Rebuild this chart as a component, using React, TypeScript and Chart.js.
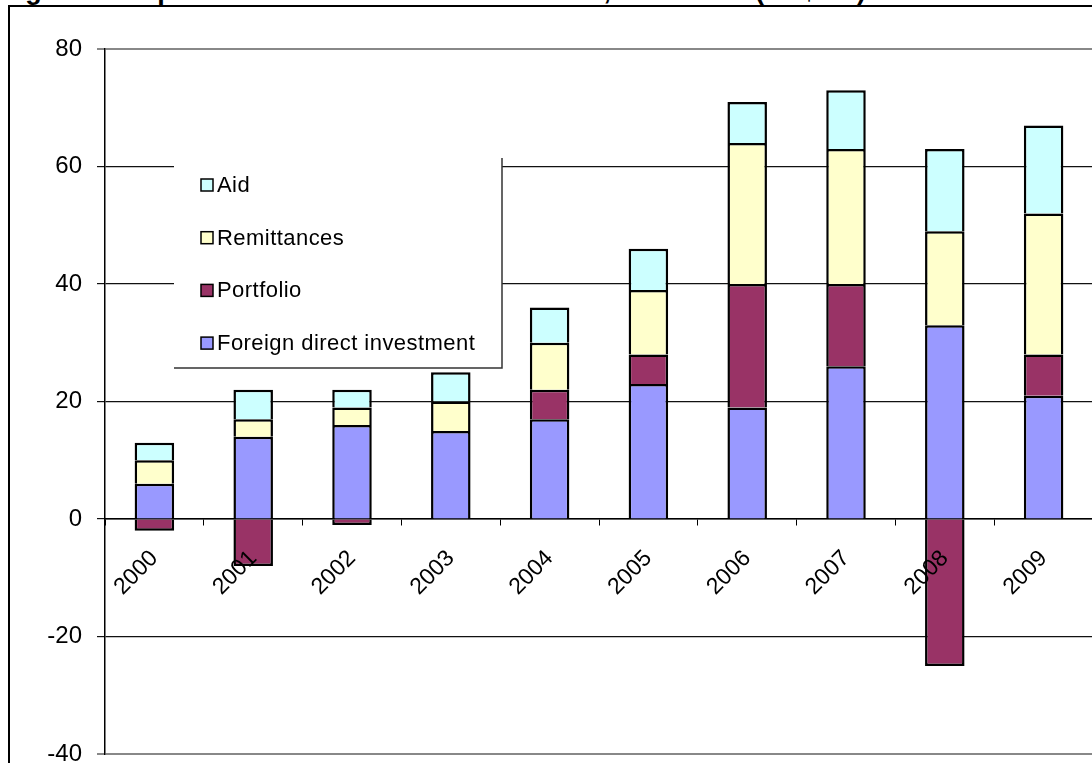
import React, { useEffect, useRef } from "react";
import { Chart, registerables } from "chart.js";

Chart.register(...registerables);

// Capital inflows by year, US$ bn
const years = ["2000", "2001", "2002", "2003", "2004", "2005", "2006", "2007", "2008", "2009"];
const fdi = [6, 14, 16, 15, 17, 23, 19, 26, 33, 21];
const portfolio = [-2, -8, -1, 0, 5, 5, 21, 14, -25, 7];
const remittances = [4, 3, 3, 5, 8, 11, 24, 23, 16, 24];
const aid = [3, 5, 3, 5, 6, 7, 7, 10, 14, 15];

const seriesNames = ["Foreign direct investment", "Portfolio", "Remittances", "Aid"];
const seriesColors = ["#9999FF", "#993366", "#FFFFCC", "#CCFFFF"];
const yTicks = [-40, -20, 0, 20, 40, 60, 80];

const title = "Figure 5: Capital inflows to Sub-Saharan Africa, 2000-2009 (US$ bn)";
const FONT = "'Liberation Sans', Arial, sans-serif";

// Boxed legend drawn inside the plot area, top entry = last stacked series
const boxLegend = {
  id: "boxLegend",
  afterDraw(chart: any) {
    const { ctx, chartArea } = chart;
    const x0 = chartArea.left + 69;
    const y0 = chartArea.top + 109;
    const w = 328;
    const h = 210;
    ctx.save();
    ctx.fillStyle = "#ffffff";
    ctx.fillRect(x0, y0, w, h);
    ctx.strokeStyle = "#333333";
    ctx.lineWidth = 1.5;
    ctx.beginPath();
    ctx.moveTo(x0 + w, y0);
    ctx.lineTo(x0 + w, y0 + h);
    ctx.lineTo(x0, y0 + h);
    ctx.stroke();

    ctx.font = `22px ${FONT}`;
    (ctx as any).letterSpacing = "0.45px";
    ctx.textBaseline = "middle";
    ctx.textAlign = "left";
    const order = [3, 2, 1, 0];
    order.forEach((di, i) => {
      const ds = chart.data.datasets[di];
      const cy = y0 + 27 + i * 52.7;
      ctx.fillStyle = ds.backgroundColor;
      ctx.fillRect(x0 + 27, cy - 6, 12, 12);
      ctx.strokeStyle = "#000000";
      ctx.lineWidth = 1.5;
      ctx.strokeRect(x0 + 27, cy - 6, 12, 12);
      ctx.fillStyle = "#000000";
      ctx.fillText(ds.label, x0 + 43, cy + 1);
    });
    ctx.restore();
  },
};

const zeroPadding = (scale: any) => {
  scale.paddingTop = 0;
  scale.paddingBottom = 0;
};

export default function App() {
  const canvasRef = useRef<HTMLCanvasElement>(null);

  useEffect(() => {
    const canvas = canvasRef.current;
    if (!canvas) return;
    const seriesValues = [fdi, portfolio, remittances, aid];
    const chart = new Chart(canvas, {
      type: "bar",
      data: {
        labels: years,
        datasets: seriesValues.map((vals, i) => ({
          label: seriesNames[i],
          data: vals,
          backgroundColor: seriesColors[i],
          borderColor: "#000000",
          borderWidth: 2.5,
        })),
      },
      options: {
        responsive: false,
        animation: false,
        layout: { padding: { left: 0, top: 49, right: 0, bottom: 9 } },
        plugins: {
          legend: { display: false },
          tooltip: { enabled: false },
          title: { display: false },
        },
        datasets: { bar: { barPercentage: 0.4, categoryPercentage: 1 } } as any,
        scales: {
          x: {
            stacked: true,
            position: { y: 0 } as any,
            afterFit: (scale: any) => {
              zeroPadding(scale);
              scale.height = 0;
            },
            grid: {
              drawOnChartArea: false,
              tickLength: 6,
              color: "#000000",
              offset: true,
            },
            border: { color: "#000000", width: 1.5 },
            ticks: {
              z: 1,
              minRotation: 45,
              maxRotation: 45,
              autoSkip: false,
              padding: 20,
              color: "#000000",
              font: { family: FONT, size: 23 },
            },
          },
          y: {
            stacked: true,
            min: -40,
            max: 80,
            afterBuildTicks: (scale: any) => {
              scale.ticks = yTicks.map((v) => ({ value: v }));
            },
            afterFit: (scale: any) => {
              zeroPadding(scale);
              scale.width = 105;
            },
            grid: {
              color: (c: any) =>
                c.tick && (c.tick.value === 80 || c.tick.value === -40) ? "#888888" : "#111111",
              lineWidth: (c: any) =>
                c.tick && (c.tick.value === 80 || c.tick.value === -40) ? 2 : 1.2,
              tickLength: 8,
            },
            border: { color: "#000000", width: 1.5 },
            ticks: {
              padding: 15,
              color: "#000000",
              font: { family: FONT, size: 24 },
            },
          },
        },
      },
      plugins: [boxLegend],
    });
    return () => chart.destroy();
  }, []);

  return (
    <div
      style={{
        position: "fixed",
        left: 0,
        top: 0,
        width: 1092,
        height: 763,
        overflow: "hidden",
        background: "#ffffff",
      }}
    >
      <div
        style={{
          position: "absolute",
          right: 226,
          top: -23,
          whiteSpace: "nowrap",
          fontFamily: FONT,
          fontWeight: "bold",
          fontSize: 27,
          lineHeight: "27px",
          color: "#000000",
        }}
      >
        {title}
      </div>
      <div
        style={{
          position: "absolute",
          left: 8,
          top: 5,
          width: 2000,
          height: 2000,
          borderLeft: "2px solid #000000",
          borderTop: "2px solid #000000",
        }}
      />
      <canvas
        ref={canvasRef}
        width={1093}
        height={763}
        style={{ position: "absolute", left: 0, top: 0 }}
      />
    </div>
  );
}
